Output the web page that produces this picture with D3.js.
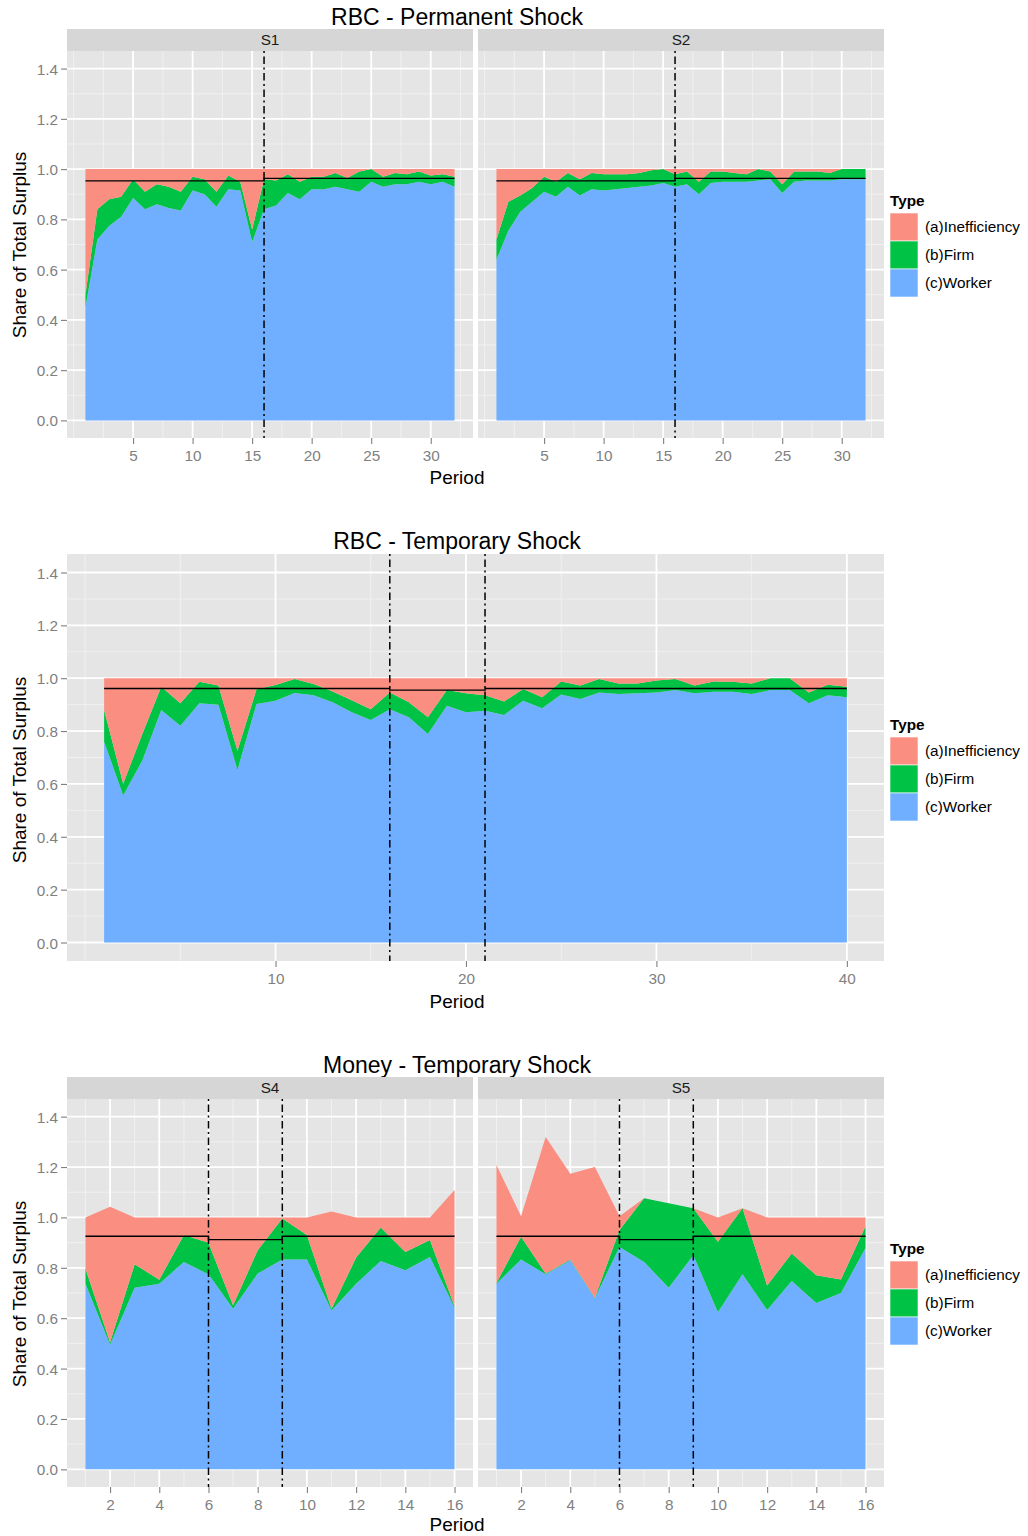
<!DOCTYPE html>
<html><head><meta charset="utf-8">
<script src="https://cdn.jsdelivr.net/npm/d3@7"></script>
<style>body{margin:0;background:#fff}svg{display:block}</style>
</head><body>
<svg id="chart" width="1028" height="1536"></svg>
<script>
// ---------------- DATA ----------------
const typeLabels = ["(a)Inefficiency", "(b)Firm", "(c)Worker"];
const typeKeys = ["ineff", "firm", "worker"];
const typeColors = { ineff: "#F98E81", firm: "#00C244", worker: "#70AEFF" };

const yTicks = [0, 0.2, 0.4, 0.6, 0.8, 1.0, 1.2, 1.4];
const yTickLabels = ["0.0", "0.2", "0.4", "0.6", "0.8", "1.0", "1.2", "1.4"];
const yMinorTicks = [0.1, 0.3, 0.5, 0.7, 0.9, 1.1, 1.3];

// RBC - Permanent Shock (periods 1..32)
const permTicks = [5, 10, 15, 20, 25, 30];
const permMinor = [0, 2.5, 7.5, 12.5, 17.5, 22.5, 27.5, 32.5];
const s1Worker = [0.45,0.72,0.775,0.81,0.885,0.84,0.86,0.845,0.835,0.915,0.90,0.85,0.92,0.915,0.71,0.84,0.855,0.905,0.88,0.92,0.92,0.93,0.92,0.91,0.95,0.93,0.94,0.94,0.95,0.94,0.95,0.93];
const s1Firm   = [0.05,0.12,0.105,0.08,0.075,0.07,0.08,0.085,0.075,0.055,0.06,0.06,0.055,0.035,0.05,0.12,0.10,0.075,0.07,0.05,0.05,0.055,0.045,0.08,0.05,0.04,0.045,0.04,0.04,0.035,0.03,0.04];
const s1Ineff  = [0.50,0.16,0.12,0.11,0.04,0.09,0.06,0.07,0.09,0.03,0.04,0.09,0.025,0.05,0.24,0.04,0.045,0.02,0.05,0.03,0.03,0.015,0.035,0.01,0.0,0.03,0.015,0.02,0.01,0.025,0.02,0.03];
const s2Worker = [0.64,0.755,0.83,0.87,0.91,0.89,0.93,0.895,0.92,0.915,0.92,0.925,0.93,0.935,0.945,0.93,0.94,0.90,0.945,0.95,0.95,0.95,0.955,0.96,0.905,0.95,0.955,0.955,0.955,0.96,0.96,0.96];
const s2Firm   = [0.08,0.115,0.065,0.055,0.06,0.06,0.055,0.065,0.065,0.065,0.06,0.055,0.055,0.06,0.055,0.05,0.05,0.05,0.045,0.04,0.035,0.03,0.045,0.03,0.035,0.04,0.035,0.035,0.03,0.04,0.04,0.04];
const s2Ineff  = [0.28,0.13,0.105,0.075,0.03,0.05,0.015,0.04,0.015,0.02,0.02,0.02,0.015,0.005,0.0,0.02,0.01,0.05,0.01,0.01,0.015,0.02,0.0,0.01,0.06,0.01,0.01,0.01,0.015,0.0,0.0,0.0];
const permShockLines = [16];
const permStepBreaks = [1, 16, 32];
const permStepValues = [0.953, 0.963];

// RBC - Temporary Shock (periods 1..40)
const tempTicks = [10, 20, 30, 40];
const tempMinor = [0, 5, 15, 25, 35];
const tWorker = [0.76,0.556,0.688,0.88,0.82,0.905,0.90,0.653,0.902,0.915,0.944,0.936,0.909,0.871,0.842,0.883,0.852,0.789,0.896,0.871,0.877,0.861,0.915,0.886,0.938,0.921,0.946,0.94,0.943,0.946,0.955,0.943,0.949,0.949,0.94,0.955,0.955,0.905,0.936,0.928];
const tFirm   = [0.12,0.045,0.10,0.088,0.085,0.082,0.072,0.073,0.056,0.059,0.053,0.042,0.041,0.046,0.041,0.063,0.057,0.063,0.059,0.072,0.059,0.051,0.044,0.042,0.05,0.051,0.051,0.04,0.037,0.045,0.042,0.029,0.039,0.038,0.04,0.045,0.045,0.041,0.039,0.04];
const tIneff  = [0.12,0.399,0.212,0.032,0.095,0.013,0.028,0.274,0.042,0.026,0.003,0.022,0.05,0.083,0.117,0.054,0.091,0.148,0.045,0.057,0.064,0.088,0.041,0.072,0.012,0.028,0.003,0.02,0.02,0.009,0.003,0.028,0.012,0.013,0.02,0.0,0.0,0.054,0.025,0.032];
const tempShockLines = [16, 21];
const tempStepBreaks = [1, 16, 21, 40];
const tempStepValues = [0.961, 0.955, 0.961];

// Money - Temporary Shock (periods 1..16)
const moneyTicks = [2, 4, 6, 8, 10, 12, 14, 16];
const moneyMinor = [1, 3, 5, 7, 9, 11, 13, 15];
const s4Worker = [0.737,0.495,0.721,0.737,0.823,0.774,0.637,0.777,0.833,0.833,0.631,0.737,0.827,0.79,0.843,0.641];
const s4Firm   = [0.06,0.01,0.093,0.016,0.107,0.125,0.014,0.093,0.163,0.097,0.006,0.104,0.133,0.073,0.067,0.006];
const s4Ineff  = [0.203,0.537,0.186,0.247,0.07,0.101,0.349,0.13,0.004,0.07,0.386,0.159,0.04,0.137,0.09,0.462];
const s5Worker = [0.737,0.833,0.774,0.83,0.679,0.883,0.823,0.721,0.85,0.624,0.774,0.633,0.748,0.66,0.70,0.879];
const s5Firm   = [0.003,0.09,0.003,0.003,0.002,0.067,0.253,0.335,0.186,0.279,0.262,0.097,0.109,0.11,0.054,0.086];
const s5Ineff  = [0.468,0.082,0.542,0.34,0.519,0.055,0.0,0.0,0.0,0.097,0.0,0.27,0.143,0.23,0.246,0.035];
const moneyShockLines = [6, 9];
const moneyStepBreaks = [1, 6, 9, 16];
const moneyStepValues = [0.925, 0.912, 0.925];

// ---------------- DRAW ----------------
const FONT = "'Liberation Sans', Arial, Helvetica, sans-serif";
const svg = d3.select("#chart");
const yDomain = [-0.07, 1.47];

function drawPanel(o) {
  const x = d3.scaleLinear().domain(o.xDomain).range([o.left, o.right]);
  const y = d3.scaleLinear().domain(yDomain).range([o.bottom, o.top]);
  const g = svg.append("g");
  g.append("rect").attr("x", o.left).attr("y", o.top)
    .attr("width", o.right - o.left).attr("height", o.bottom - o.top).attr("fill", "#E5E5E5");
  // minor grid
  g.selectAll(".ymin").data(yMinorTicks).join("line")
    .attr("x1", o.left).attr("x2", o.right).attr("y1", d => y(d)).attr("y2", d => y(d))
    .attr("stroke", "#F2F2F2").attr("stroke-width", 0.9);
  g.selectAll(".xmin").data(o.xMinor).join("line")
    .attr("y1", o.top).attr("y2", o.bottom).attr("x1", d => x(d)).attr("x2", d => x(d))
    .attr("stroke", "#F2F2F2").attr("stroke-width", 0.9);
  // major grid
  g.selectAll(".ymaj").data(yTicks).join("line")
    .attr("x1", o.left).attr("x2", o.right).attr("y1", d => y(d)).attr("y2", d => y(d))
    .attr("stroke", "#FFFFFF").attr("stroke-width", 1.8);
  g.selectAll(".xmaj").data(o.xTicks).join("line")
    .attr("y1", o.top).attr("y2", o.bottom).attr("x1", d => x(d)).attr("x2", d => x(d))
    .attr("stroke", "#FFFFFF").attr("stroke-width", 1.8);

  // stacked areas
  const rows = o.worker.map((w, i) => ({ period: i + 1, worker: w, firm: o.firm[i], ineff: o.ineff[i] }));
  const stacked = d3.stack().keys(["worker", "firm", "ineff"])(rows);
  const area = d3.area().x(d => x(d.data.period)).y0(d => y(d[0])).y1(d => y(d[1]));
  g.selectAll(".layer").data(stacked).join("path")
    .attr("d", area).attr("fill", d => typeColors[d.key]);

  // step benchmark line
  const pts = [];
  o.stepValues.forEach((v, i) => { pts.push([o.stepBreaks[i], v]); pts.push([o.stepBreaks[i + 1], v]); });
  g.append("path").attr("d", d3.line().x(d => x(d[0])).y(d => y(d[1]))(pts))
    .attr("fill", "none").attr("stroke", "#000").attr("stroke-width", 1.4);

  // shock lines
  g.selectAll(".vl").data(o.vlines).join("line")
    .attr("x1", d => x(d)).attr("x2", d => x(d)).attr("y1", o.top).attr("y2", o.bottom)
    .attr("stroke", "#000").attr("stroke-width", 1.5).attr("stroke-dasharray", "2,3.5,7.5,3.5");

  // strip
  if (o.strip) {
    g.append("rect").attr("x", o.left).attr("y", o.top - 22).attr("width", o.right - o.left)
      .attr("height", 22).attr("fill", "#D6D6D6");
    g.append("text").attr("x", (o.left + o.right) / 2).attr("y", o.top - 11).attr("dy", "0.35em")
      .attr("text-anchor", "middle").attr("font-family", FONT).attr("font-size", 15.3)
      .attr("fill", "#1A1A1A").text(o.strip);
  }

  // x axis
  const xa = g.append("g").attr("transform", `translate(0,${o.bottom})`)
    .call(d3.axisBottom(x).tickValues(o.xTicks).tickSize(6).tickPadding(7).tickSizeOuter(0));
  styleAxis(xa);
  xa.selectAll("text").attr("dy", null).attr("y", 22.5);
  // y axis
  if (o.yAxis) {
    const ya = g.append("g").attr("transform", `translate(${o.left},0)`)
      .call(d3.axisLeft(y).tickValues(yTicks).tickFormat((d, i) => yTickLabels[i]).tickSize(6).tickPadding(3).tickSizeOuter(0));
    styleAxis(ya);
    ya.selectAll("text").attr("dy", "0.36em");
  }
}
function styleAxis(a) {
  a.select(".domain").remove();
  a.selectAll("line").attr("stroke", "#7F7F7F").attr("stroke-width", 1.1);
  a.selectAll("text").attr("fill", "#7F7F7F").attr("font-family", FONT).attr("font-size", 15.3);
}

function drawText(txt, xp, yp, size, opts = {}) {
  const t = svg.append("text").attr("x", xp).attr("y", yp).attr("font-family", FONT)
    .attr("font-size", size).attr("fill", opts.fill || "#000")
    .attr("text-anchor", opts.anchor || "middle").text(txt);
  if (opts.weight) t.attr("font-weight", opts.weight);
  if (opts.rotate) t.attr("transform", `rotate(-90,${xp},${yp})`);
  return t;
}

function drawLegend(top) {
  drawText("Type", 890, top + 11, 15.3, { anchor: "start", weight: "bold" });
  typeKeys.forEach((k, i) => {
    const ky = top + 18 + i * 28;
    svg.append("rect").attr("x", 890).attr("y", ky).attr("width", 28).attr("height", 28)
      .attr("fill", typeColors[k]).attr("stroke", "#FFFFFF").attr("stroke-width", 0.6);
    drawText(typeLabels[i], 925, ky + 14, 15.3, { anchor: "start" }).attr("dy", "0.35em");
  });
}

// ---- Chart 1: RBC - Permanent Shock
const permX = [-0.55, 33.55];
drawText("RBC - Permanent Shock", 457, 25, 23);
drawPanel({ left: 67, right: 473, top: 51, bottom: 438, xDomain: permX, xTicks: permTicks, xMinor: permMinor,
  worker: s1Worker, firm: s1Firm, ineff: s1Ineff, vlines: permShockLines,
  stepBreaks: permStepBreaks, stepValues: permStepValues, strip: "S1", yAxis: true });
drawPanel({ left: 478, right: 884, top: 51, bottom: 438, xDomain: permX, xTicks: permTicks, xMinor: permMinor,
  worker: s2Worker, firm: s2Firm, ineff: s2Ineff, vlines: permShockLines,
  stepBreaks: permStepBreaks, stepValues: permStepValues, strip: "S2", yAxis: false });
drawText("Period", 457, 484, 19);
drawText("Share of Total Surplus", 26, 245, 19, { rotate: true });
drawLegend(195);

// ---- Chart 2: RBC - Temporary Shock
drawText("RBC - Temporary Shock", 457, 549, 23);
drawPanel({ left: 67, right: 884, top: 554, bottom: 961, xDomain: [-0.95, 41.95], xTicks: tempTicks, xMinor: tempMinor,
  worker: tWorker, firm: tFirm, ineff: tIneff, vlines: tempShockLines,
  stepBreaks: tempStepBreaks, stepValues: tempStepValues, strip: null, yAxis: true });
drawText("Period", 457, 1008, 19);
drawText("Share of Total Surplus", 26, 770, 19, { rotate: true });
drawLegend(719);

// ---- Chart 3: Money - Temporary Shock
const moneyX = [0.25, 16.75];
drawText("Money - Temporary Shock", 457, 1073, 23);
drawPanel({ left: 67, right: 473, top: 1099, bottom: 1487, xDomain: moneyX, xTicks: moneyTicks, xMinor: moneyMinor,
  worker: s4Worker, firm: s4Firm, ineff: s4Ineff, vlines: moneyShockLines,
  stepBreaks: moneyStepBreaks, stepValues: moneyStepValues, strip: "S4", yAxis: true });
drawPanel({ left: 478, right: 884, top: 1099, bottom: 1487, xDomain: moneyX, xTicks: moneyTicks, xMinor: moneyMinor,
  worker: s5Worker, firm: s5Firm, ineff: s5Ineff, vlines: moneyShockLines,
  stepBreaks: moneyStepBreaks, stepValues: moneyStepValues, strip: "S5", yAxis: false });
drawText("Period", 457, 1531, 19);
drawText("Share of Total Surplus", 26, 1294, 19, { rotate: true });
drawLegend(1243);
</script>
</body></html>
